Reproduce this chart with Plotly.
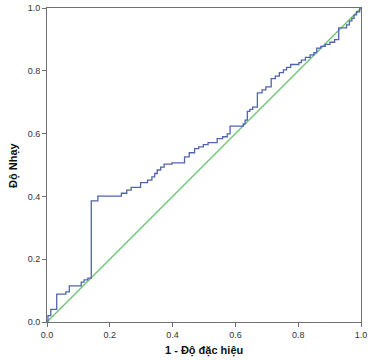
import plotly.graph_objects as go

# ROC curve step corners (1 - specificity, sensitivity)
fpr = [0, 0.003, 0.012, 0.031, 0.06, 0.071, 0.109, 0.118, 0.13, 0.141, 0.162, 0.237, 0.254,
       0.268, 0.298, 0.32, 0.334, 0.343, 0.351, 0.362, 0.373, 0.398, 0.438, 0.453, 0.47,
       0.483, 0.498, 0.513, 0.542, 0.559, 0.574, 0.583, 0.625, 0.631, 0.638, 0.646, 0.655,
       0.670, 0.685, 0.697, 0.714, 0.727, 0.74, 0.753, 0.763, 0.776, 0.802, 0.81, 0.823,
       0.838, 0.85, 0.859, 0.872, 0.886, 0.901, 0.916, 0.929, 0.954, 0.963, 0.971, 0.978,
       0.986, 0.996, 1.0]
tpr = [0, 0.02, 0.04, 0.089, 0.096, 0.115, 0.127, 0.134, 0.14, 0.386, 0.401, 0.41, 0.42,
       0.429, 0.444, 0.452, 0.462, 0.473, 0.484, 0.493, 0.503, 0.507, 0.526, 0.539, 0.552,
       0.558, 0.565, 0.571, 0.584, 0.59, 0.599, 0.624, 0.631, 0.643, 0.671, 0.677, 0.684,
       0.73, 0.739, 0.749, 0.775, 0.783, 0.794, 0.803, 0.811, 0.82, 0.826, 0.834, 0.843,
       0.851, 0.858, 0.872, 0.878, 0.884, 0.891, 0.899, 0.937, 0.946, 0.959, 0.967, 0.978,
       0.988, 1.0, 1.0]
ref_x = [0, 1]
ref_y = [0, 1]
tick_vals = [0.0, 0.2, 0.4, 0.6, 0.8, 1.0]
tick_text = ["0.0", "0.2", "0.4", "0.6", "0.8", "1.0"]
x_title = "1 - Độ đặc hiệu"
y_title = "Độ Nhạy"

fig = go.Figure()
fig.add_trace(go.Scatter(x=ref_x, y=ref_y, mode="lines",
                         line=dict(color="#6cc46c", width=1.3), hoverinfo="skip"))
fig.add_trace(go.Scatter(x=fpr, y=tpr, mode="lines", line_shape="hv",
                         line=dict(color="#5064aa", width=1.3)))

axis_common = dict(range=[0, 1], tickmode="array", tickvals=tick_vals, ticktext=tick_text,
                   automargin=False,
                   showgrid=False, zeroline=False, showline=True, linecolor="#707070",
                   linewidth=1, mirror=True, ticks="outside", ticklen=4, tickcolor="#707070",
                   tickfont=dict(family="Liberation Sans, Arial", size=9, color="#333333"))

title_font = dict(family="Liberation Sans, Arial", size=11, color="#111111")

fig.update_layout(
    width=373, height=360, autosize=False,
    margin=dict(l=47, r=12, t=8, b=38, pad=0),
    paper_bgcolor="white", plot_bgcolor="white",
    showlegend=False,
    xaxis=dict(**axis_common),
    yaxis=dict(**axis_common),
    annotations=[
        dict(text="<b>" + x_title + "</b>", xref="paper", yref="paper", x=0.5, y=0,
             xanchor="center", yanchor="middle", yshift=-28, showarrow=False, font=title_font),
        dict(text="<b>" + y_title + "</b>", xref="paper", yref="paper", x=0, y=0.5,
             xanchor="center", yanchor="middle", xshift=-34, textangle=-90,
             showarrow=False, font=title_font),
    ],
)

fig.write_html(
    "out.html",
    config={"displayModeBar": False},
    post_script="document.body.style.margin='0px';document.body.style.overflow='hidden';",
)
